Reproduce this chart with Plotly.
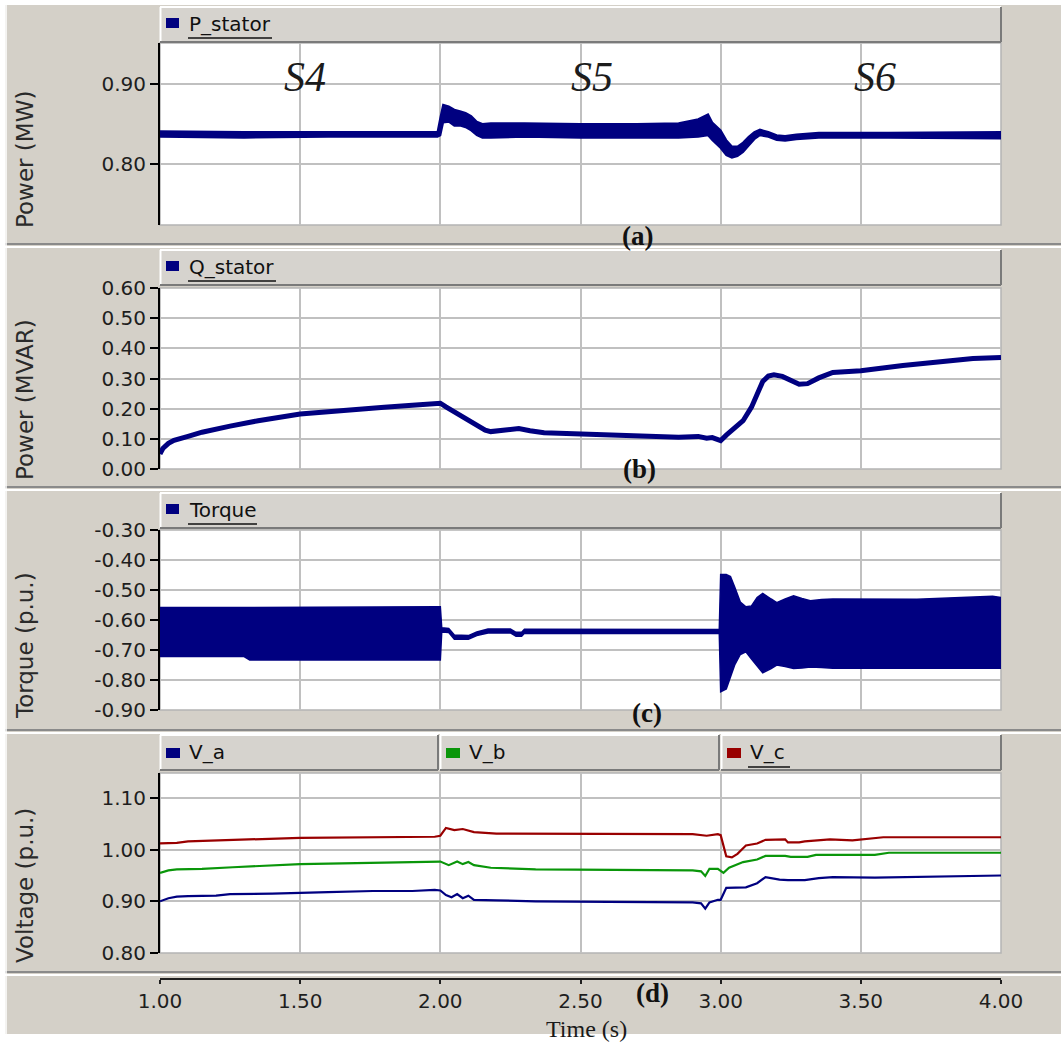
import plotly.graph_objects as go

# ---------------- data ----------------
t_p = [1.00, 1.30, 1.60, 1.99, 2.00, 2.01, 2.03, 2.05, 2.07, 2.09, 2.11, 2.13, 2.15, 2.18, 2.30, 2.50,
       2.70, 2.85, 2.92, 2.955, 2.97, 3.00, 3.02, 3.04, 3.06, 3.08, 3.10, 3.12, 3.14, 3.17, 3.20, 3.23,
       3.27, 3.35, 3.60, 4.00]
p_lo = [0.834, 0.833, 0.834, 0.834, 0.836, 0.852, 0.853, 0.848, 0.848, 0.846, 0.842, 0.836, 0.833, 0.833,
        0.834, 0.833, 0.833, 0.833, 0.834, 0.836, 0.830, 0.820, 0.811, 0.808, 0.810, 0.815, 0.823, 0.831,
        0.836, 0.834, 0.830, 0.829, 0.831, 0.833, 0.833, 0.832]
p_hi = [0.841, 0.840, 0.840, 0.840, 0.858, 0.874, 0.872, 0.868, 0.866, 0.864, 0.860, 0.853, 0.850, 0.851,
        0.851, 0.850, 0.850, 0.851, 0.856, 0.862, 0.852, 0.842, 0.830, 0.822, 0.822, 0.827, 0.834, 0.840,
        0.843, 0.840, 0.836, 0.835, 0.837, 0.839, 0.839, 0.840]

t_q = [1.00, 1.01, 1.03, 1.05, 1.10, 1.15, 1.25, 1.35, 1.50, 1.65, 1.80, 1.90, 1.98, 2.00, 2.02, 2.06,
       2.11, 2.16, 2.18, 2.23, 2.28, 2.32, 2.37, 2.45, 2.55, 2.70, 2.85, 2.92, 2.95, 2.97, 3.00, 3.02,
       3.05, 3.08, 3.11, 3.13, 3.15, 3.17, 3.19, 3.22, 3.25, 3.28, 3.31, 3.35, 3.40, 3.50, 3.65, 3.80,
       3.90, 4.00]
q_val = [0.050, 0.068, 0.085, 0.095, 0.108, 0.122, 0.142, 0.160, 0.182, 0.195, 0.205, 0.211, 0.216, 0.218,
         0.206, 0.185, 0.157, 0.129, 0.124, 0.129, 0.134, 0.127, 0.120, 0.118, 0.114, 0.110, 0.105, 0.108,
         0.102, 0.104, 0.094, 0.112, 0.135, 0.160, 0.205, 0.250, 0.290, 0.308, 0.312, 0.307, 0.292, 0.281,
         0.283, 0.302, 0.320, 0.326, 0.343, 0.358, 0.366, 0.370]

t_tq = [1.00, 1.30, 1.32, 1.99, 2.00, 2.005, 2.03, 2.05, 2.10, 2.13, 2.17, 2.25, 2.27, 2.29, 2.30, 2.995,
        3.00, 3.02, 3.035, 3.05, 3.07, 3.09, 3.11, 3.13, 3.15, 3.18, 3.20, 3.23, 3.26, 3.29, 3.32, 3.36,
        3.40, 3.70, 3.97, 4.00]
tq_lo = [-0.722, -0.722, -0.733, -0.733, -0.733, -0.640, -0.642, -0.664, -0.664, -0.652, -0.643, -0.643,
         -0.654, -0.654, -0.644, -0.645, -0.839, -0.830, -0.790, -0.750, -0.715, -0.706, -0.730, -0.752,
         -0.776, -0.762, -0.750, -0.755, -0.762, -0.760, -0.757, -0.758, -0.761, -0.761, -0.761, -0.761]
tq_hi = [-0.558, -0.560, -0.558, -0.556, -0.556, -0.626, -0.628, -0.650, -0.652, -0.640, -0.630, -0.630,
         -0.641, -0.641, -0.631, -0.632, -0.448, -0.448, -0.455, -0.490, -0.540, -0.556, -0.553, -0.525,
         -0.511, -0.530, -0.542, -0.530, -0.519, -0.528, -0.536, -0.532, -0.530, -0.531, -0.521, -0.525]

t_va = [1.00, 1.03, 1.06, 1.10, 1.20, 1.25, 1.40, 1.50, 1.60, 1.76, 1.90, 1.98, 2.00, 2.02, 2.04, 2.06,
        2.08, 2.10, 2.12, 2.20, 2.34, 2.60, 2.90, 2.93, 2.945, 2.96, 2.99, 3.00, 3.02, 3.09, 3.13, 3.16,
        3.21, 3.24, 3.30, 3.35, 3.40, 3.55, 3.80, 4.00]
va = [0.900, 0.906, 0.909, 0.910, 0.911, 0.914, 0.915, 0.917, 0.918, 0.920, 0.920, 0.922, 0.921, 0.912,
      0.908, 0.914, 0.906, 0.911, 0.903, 0.902, 0.900, 0.899, 0.898, 0.896, 0.886, 0.898, 0.903, 0.903,
      0.926, 0.927, 0.935, 0.947, 0.942, 0.941, 0.941, 0.945, 0.947, 0.946, 0.949, 0.950]

t_vb = [1.00, 1.03, 1.06, 1.15, 1.26, 1.40, 1.50, 1.70, 1.98, 2.00, 2.03, 2.06, 2.08, 2.10, 2.12, 2.18,
        2.34, 2.60, 2.90, 2.93, 2.945, 2.96, 2.99, 3.01, 3.03, 3.08, 3.13, 3.16, 3.23, 3.25, 3.31, 3.34,
        3.45, 3.55, 3.60, 4.00]
vb = [0.955, 0.960, 0.962, 0.963, 0.966, 0.969, 0.972, 0.974, 0.976, 0.977, 0.970, 0.977, 0.972, 0.976,
      0.970, 0.965, 0.962, 0.961, 0.960, 0.958, 0.949, 0.963, 0.963, 0.955, 0.965, 0.976, 0.981, 0.988,
      0.988, 0.986, 0.986, 0.990, 0.990, 0.990, 0.994, 0.994]

t_vc = [1.00, 1.06, 1.10, 1.30, 1.50, 1.98, 2.00, 2.02, 2.05, 2.08, 2.12, 2.20, 2.50, 2.90, 2.95, 2.99,
        3.00, 3.02, 3.04, 3.06, 3.09, 3.13, 3.16, 3.23, 3.24, 3.28, 3.30, 3.39, 3.47, 3.58, 4.00]
vc = [1.012, 1.013, 1.016, 1.019, 1.023, 1.025, 1.027, 1.042, 1.038, 1.040, 1.034, 1.031, 1.031, 1.030,
      1.027, 1.030, 1.028, 0.987, 0.985, 0.992, 1.008, 1.012, 1.019, 1.020, 1.014, 1.014, 1.016, 1.020,
      1.018, 1.024, 1.024]

x_ticks = [1.0, 1.5, 2.0, 2.5, 3.0, 3.5, 4.0]
x_ticktext = ["1.00", "1.50", "2.00", "2.50", "3.00", "3.50", "4.00"]
yticks_a = [0.80, 0.90]
yticks_b = [0.0, 0.1, 0.2, 0.3, 0.4, 0.5, 0.6]
yticks_c = [-0.9, -0.8, -0.7, -0.6, -0.5, -0.4, -0.3]
yticks_d = [0.80, 0.90, 1.00, 1.10]
y_titles = ["Power (MW)", "Power (MVAR)", "Torque (p.u.)", "Voltage (p.u.)"]
legend_names = ["P_stator", "Q_stator", "Torque"]
v_names = ["V_a", "V_b", "V_c"]
stage_labels = ["S4", "S5", "S6"]
panel_tags = ["(a)", "(b)", "(c)", "(d)"]

# ---------------- geometry ----------------
W, H = 1061, 1046
def fx(px):
    return px / W
def fy(py):
    return 1 - py / H

NAVY = "#000080"
GREEN = "#0a960a"
RED = "#990000"
GREY = "#d4d0c8"
GRID = "#c0c0c0"
TICKFONT = dict(family="DejaVu Sans", size=20, color="#1e1e1e")

X0, X1 = 160, 1001
plots = [(43, 225), (288, 469), (530, 710), (773, 953)]
yranges = [[0.7238, 0.9513], [0.0, 0.6], [-0.9, -0.3], [0.8, 1.1484]]
yticks = [yticks_a, yticks_b, yticks_c, yticks_d]

fig = go.Figure()

# panel (a)
fig.add_trace(go.Scatter(x=t_p, y=p_lo, mode="lines", line=dict(color=NAVY, width=2),
                         xaxis="x", yaxis="y", showlegend=False, hoverinfo="skip"))
fig.add_trace(go.Scatter(x=t_p, y=p_hi, mode="lines", line=dict(color=NAVY, width=2), fill="tonexty",
                         fillcolor=NAVY, xaxis="x", yaxis="y", showlegend=False, hoverinfo="skip"))
# panel (b)
fig.add_trace(go.Scatter(x=t_q, y=q_val, mode="lines", line=dict(color=NAVY, width=5),
                         xaxis="x2", yaxis="y2", showlegend=False, hoverinfo="skip"))
# panel (c)
fig.add_trace(go.Scatter(x=t_tq, y=tq_lo, mode="lines", line=dict(color=NAVY, width=1.5),
                         xaxis="x3", yaxis="y3", showlegend=False, hoverinfo="skip"))
fig.add_trace(go.Scatter(x=t_tq, y=tq_hi, mode="lines", line=dict(color=NAVY, width=1.5), fill="tonexty",
                         fillcolor=NAVY, xaxis="x3", yaxis="y3", showlegend=False, hoverinfo="skip"))
# panel (d)
for tt, vv, col in [(t_vc, vc, RED), (t_vb, vb, GREEN), (t_va, va, NAVY)]:
    fig.add_trace(go.Scatter(x=tt, y=vv, mode="lines", line=dict(color=col, width=2.2),
                             xaxis="x4", yaxis="y4", showlegend=False, hoverinfo="skip"))
# bottom time axis carrier
fig.add_trace(go.Scatter(x=[x_ticks[0], x_ticks[-1]], y=[0, 0], mode="markers", marker=dict(opacity=0),
                         xaxis="x5", yaxis="y5", showlegend=False, hoverinfo="skip"))

layout = dict(width=W, height=H, margin=dict(l=0, r=0, t=0, b=0, pad=0, autoexpand=False),
              paper_bgcolor="white", plot_bgcolor="rgba(0,0,0,0)", showlegend=False)
for i, (top, bot) in enumerate(plots):
    sx = "" if i == 0 else str(i + 1)
    layout["xaxis" + sx] = dict(domain=[fx(X0), fx(X1)], range=[1, 4], anchor="y" + sx,
                                tickvals=[1.5, 2.0, 2.5, 3.0, 3.5], showticklabels=False, ticks="",
                                showgrid=True, gridcolor=GRID, gridwidth=2, zeroline=False, showline=False,
                                automargin=False)
    layout["yaxis" + sx] = dict(domain=[fy(bot), fy(top)], range=yranges[i], anchor="x" + sx,
                                tickvals=yticks[i], ticktext=["%.2f" % v for v in yticks[i]],
                                ticks="outside", ticklen=8, tickwidth=1.5, tickcolor="black",
                                showline=True, linecolor="black", linewidth=2,
                                showgrid=True, gridcolor=GRID, gridwidth=2, zeroline=False,
                                tickfont=TICKFONT, automargin=False)
layout["xaxis5"] = dict(domain=[fx(X0), fx(X1)], range=[1, 4], anchor="y5",
                        tickvals=x_ticks, ticktext=x_ticktext, ticks="outside", ticklen=4,
                        tickwidth=1.5, tickcolor="#202020", showline=True, linecolor="#202020",
                        linewidth=2, showgrid=False, zeroline=False, tickfont=TICKFONT, automargin=False)
layout["yaxis5"] = dict(domain=[fy(978), fy(975)], visible=False, range=[-1, 1], automargin=False)

shapes = []
def rect(x0, y0, x1, y1, fill, line=None, lw=0, layer="below"):
    shapes.append(dict(type="rect", xref="paper", yref="paper", x0=fx(x0), x1=fx(x1),
                       y0=fy(y1), y1=fy(y0), fillcolor=fill,
                       line=dict(color=line or fill, width=lw), layer=layer))
def hline(x0, x1, y, color, w=1, layer="below"):
    shapes.append(dict(type="line", xref="paper", yref="paper", x0=fx(x0), x1=fx(x1),
                       y0=fy(y), y1=fy(y), line=dict(color=color, width=w), layer=layer))
def vline(x, y0, y1, color, w=1, layer="below"):
    shapes.append(dict(type="line", xref="paper", yref="paper", x0=fx(x), x1=fx(x),
                       y0=fy(y0), y1=fy(y1), line=dict(color=color, width=w), layer=layer))

# grey window background and groove separators
rect(5, 5, W, 1034, GREY)
for ysep in [244, 487, 730, 972]:
    hline(5, W, ysep, "#8a8a8a", 2)
    hline(5, W, ysep + 3, "#ffffff", 2)
vline(6, 5, 1034, "#ffffff", 1.5)

# white plot areas
for top, bot in plots:
    rect(X0, top, X1, bot, "white", "#b4b4b4", 1.5)

# legend bars
def legend_bar(x0, x1, y0, y1):
    rect(x0, y0, x1, y1, "#d6d3ce")
    hline(x0, x1, y0, "#ffffff", 2)
    vline(x0 + 0.5, y0, y1, "#ffffff", 2)
    hline(x0, x1, y1, "#7a7a7a", 2)
    vline(x1, y0, y1, "#7a7a7a", 2)

bars = [(7, 42), (250, 285), (493, 528), (735, 770)]
for (y0, y1) in bars[:3]:
    legend_bar(X0, X1, y0, y1)
legend_bar(X0, 438, 735, 770)
legend_bar(440, 719, 735, 770)
legend_bar(721, X1, 735, 770)

annotations = []
def text(x, y, s, size, family, color="#1a1a1a", xanchor="left", yanchor="middle", angle=0):
    annotations.append(dict(x=fx(x), y=fy(y), xref="paper", yref="paper", text=s, showarrow=False,
                            xanchor=xanchor, yanchor=yanchor, textangle=angle,
                            font=dict(family=family, size=size, color=color)))

# legend entries for panels a-c
for i, name in enumerate(legend_names):
    yc = bars[i][0] + 17
    rect(166, yc - 6, 179, yc + 4, NAVY, layer="above")
    text(187, yc, name, 20, "DejaVu Sans", "#101010")
underline_ends = [272, 276, 257]
for i, xe in enumerate(underline_ends):
    hline(188, xe, bars[i][0] + 31, "#101010", 1.5, layer="above")

# voltage legend entries
vx = [(166, NAVY), (446, GREEN), (727, RED)]
for (sx, col), name in zip(vx, v_names):
    rect(sx, 748, sx + 14, 758, col, layer="above")
    text(sx + 21, 752, name, 20, "DejaVu Sans", "#101010")
hline(748, 790, 767, "#101010", 1.5, layer="above")

# y axis titles
title_y = [160, 400, 646, 886]
for s, yc in zip(y_titles, title_y):
    text(25, yc, s, 23, "DejaVu Sans", "#2a2a2a", xanchor="center", yanchor="middle", angle=-90)

# stage labels
for s, xc in zip(stage_labels, [305, 592, 875]):
    text(xc, 77, "<i>%s</i>" % s, 42, "Liberation Serif", "#1c1c1c", xanchor="center")

# panel tags
for s, (xc, yc) in zip(panel_tags, [(637, 236), (639, 469), (647, 713), (652, 993)]):
    text(xc, yc, "<b>%s</b>" % s, 27, "Liberation Serif", "#111111", xanchor="center")

text(586, 1029, "Time (s)", 24, "Liberation Serif", "#1a1a1a", xanchor="center")

layout["shapes"] = shapes
layout["annotations"] = annotations
fig.update_layout(**layout)

fig.write_html("out.html", config={"displayModeBar": False},
               post_script="document.body.style.margin='0';document.body.style.overflow='hidden';")
